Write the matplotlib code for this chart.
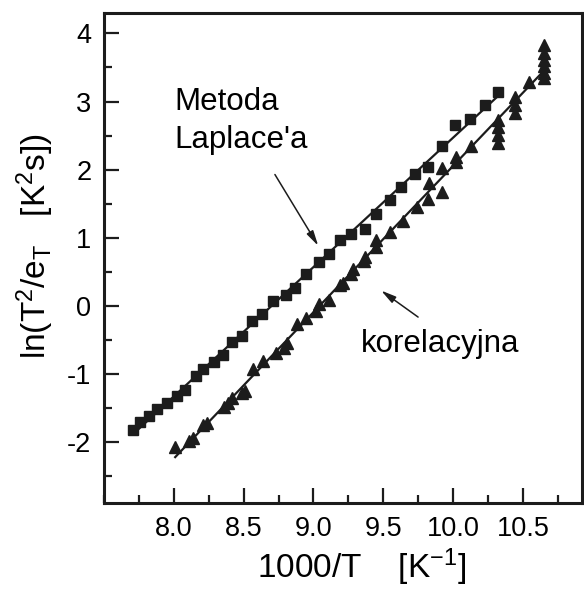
import numpy as np
import matplotlib
matplotlib.use('Agg')
import matplotlib.pyplot as plt
from matplotlib.ticker import MultipleLocator, FormatStrFormatter

plt.rcParams['font.family'] = ['Liberation Sans', 'DejaVu Sans']
plt.rcParams['mathtext.default'] = 'regular'
plt.rcParams['axes.unicode_minus'] = False

# metoda Laplace'a (kwadraty)
x_laplace = [7.71, 7.76, 7.82, 7.88, 7.95, 8.02, 8.08, 8.16, 8.21, 8.29,
             8.35, 8.42, 8.49, 8.56, 8.63, 8.71, 8.80, 8.87, 8.95, 9.04,
             9.11, 9.19, 9.27, 9.37, 9.45, 9.55, 9.63, 9.73, 9.82, 9.92,
             10.01, 10.12, 10.23, 10.32]
y_laplace = [-1.82, -1.70, -1.62, -1.52, -1.43, -1.33, -1.23, -1.03, -0.93, -0.82,
             -0.72, -0.53, -0.44, -0.22, -0.12, 0.07, 0.16, 0.26, 0.47, 0.65,
             0.76, 0.96, 1.06, 1.13, 1.35, 1.55, 1.75, 1.94, 2.04, 2.34,
             2.66, 2.75, 2.95, 3.14]

# metoda korelacyjna (trojkaty)
x_korel = [8.01, 8.11, 8.14, 8.21, 8.24, 8.36, 8.39, 8.42, 8.49, 8.51,
           8.57, 8.64, 8.73, 8.79, 8.81, 8.88, 8.95, 9.02, 9.04, 9.11,
           9.19, 9.21, 9.27, 9.28, 9.36, 9.37, 9.45, 9.45, 9.55, 9.64,
           9.74, 9.82, 9.83, 9.92, 9.92, 10.02, 10.02, 10.13,
           10.32, 10.32, 10.32, 10.32, 10.44, 10.44, 10.44, 10.54,
           10.65, 10.65, 10.65, 10.65, 10.65, 10.65]
y_korel = [-2.07, -1.99, -1.94, -1.75, -1.72, -1.48, -1.43, -1.35, -1.28, -1.25,
           -0.93, -0.81, -0.69, -0.62, -0.54, -0.27, -0.18, -0.07, 0.02, 0.09,
           0.30, 0.34, 0.47, 0.54, 0.66, 0.71, 0.86, 0.96, 1.08, 1.25,
           1.45, 1.57, 1.80, 1.67, 2.02, 2.11, 2.19, 2.34,
           2.39, 2.51, 2.63, 2.73, 2.83, 2.95, 3.07, 3.29,
           3.34, 3.42, 3.52, 3.61, 3.71, 3.83]

x_ticks = [8.0, 8.5, 9.0, 9.5, 10.0, 10.5]
y_ticks = [-2, -1, 0, 1, 2, 3, 4]

kolor = '#1c1c1c'

fig = plt.figure(figsize=(5.84, 5.92), dpi=100)
ax = fig.add_axes([0.178, 0.150, 0.818, 0.828])

# punkty pomiarowe
ax.plot(x_laplace, y_laplace, 's', color=kolor, markersize=7.5, zorder=3)
ax.plot(x_korel, y_korel, '^', color=kolor, markersize=8.5, zorder=3)

# dopasowanie liniowe
for xs, ys in [(x_laplace, y_laplace), (x_korel, y_korel)]:
    a, b = np.polyfit(xs, ys, 1)
    xl = np.array([min(xs), max(xs)])
    ax.plot(xl, a * xl + b, '-', color=kolor, lw=1.6, zorder=2)

ax.set_xlim(7.5, 10.92)
ax.set_ylim(-2.9, 4.3)
ax.set_xticks(x_ticks)
ax.set_yticks(y_ticks)
ax.xaxis.set_minor_locator(MultipleLocator(0.25))
ax.yaxis.set_minor_locator(MultipleLocator(0.5))
ax.xaxis.set_major_formatter(FormatStrFormatter('%.1f'))
ax.tick_params(which='both', direction='in', top=False, right=False,
               width=1.6, color=kolor, labelsize=19.5)
ax.tick_params(which='major', length=11)
ax.tick_params(which='minor', length=6)
ax.tick_params(axis='x', pad=9)
ax.tick_params(axis='y', pad=9)
for s in ax.spines.values():
    s.set_linewidth(2.2)
    s.set_color(kolor)

ax.set_xlabel('1000/T    [K$^{-1}$]', fontsize=24)
ax.set_ylabel('ln(T$^{2}$/e$_{T}$   [K$^{2}$s])', fontsize=24)
ax.xaxis.set_label_coords(0.539, -0.088)
ax.yaxis.set_label_coords(-0.100, 0.524)

# opisy metod ze strzalkami
ax.text(8.007, 2.873, 'Metoda', fontsize=22.5, va='baseline', ha='left')
ax.text(8.007, 2.317, "Laplace'a", fontsize=22.5, va='baseline', ha='left')
ax.text(9.336, -0.678, 'korelacyjna', fontsize=22.5, va='baseline', ha='left')

strzalka = dict(arrowstyle='-|>,head_length=0.9,head_width=0.22',
                color=kolor, lw=1.1, shrinkA=0, shrinkB=0)
ax.annotate('', xy=(9.034, 0.881), xytext=(8.724, 1.928), arrowprops=strzalka)
ax.annotate('', xy=(9.484, 0.224), xytext=(9.749, -0.166), arrowprops=strzalka)

fig.savefig('out.png', dpi=100)
